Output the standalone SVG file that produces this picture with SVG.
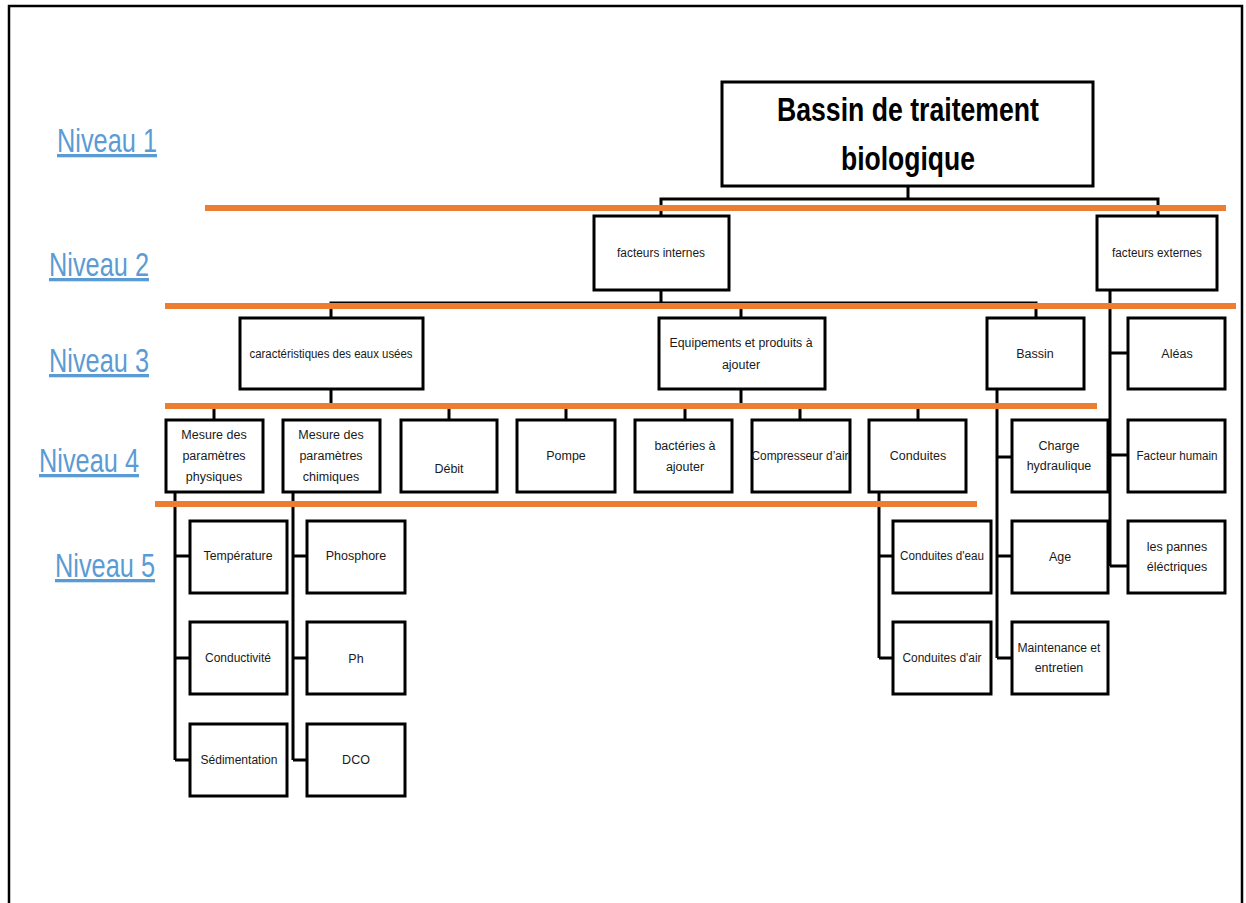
<svg xmlns="http://www.w3.org/2000/svg" width="1246" height="903" viewBox="0 0 1246 903">
  <style>
    .box { fill: #ffffff; stroke: #000000; stroke-width: 3; }
    .lbl { font-family: "Liberation Sans", "DejaVu Sans", sans-serif; font-size: 12.5px; fill: #1a1a1a; text-anchor: middle; }
    .title { font-family: "Liberation Sans", "DejaVu Sans", sans-serif; font-size: 34px; font-weight: bold; fill: #000000; text-anchor: middle; }
    .lvl { font-family: "Liberation Sans", "DejaVu Sans", sans-serif; font-size: 33px; fill: #5B9BD5; text-decoration: underline; }
    .wire { fill: none; stroke: #000000; stroke-width: 3; }
    .band { fill: none; stroke: #ED7D31; stroke-width: 6; }
  </style>

  <!-- page background and frame -->
  <rect x="0" y="0" width="1246" height="903" fill="#ffffff"/>
  <path d="M9,903 V6 H1242 V903" fill="none" stroke="#000000" stroke-width="2.5"/>

  <!-- level labels -->
  <g id="levels">
    <text class="lvl" x="57" y="152" textLength="100" lengthAdjust="spacingAndGlyphs">Niveau 1</text>
    <text class="lvl" x="49" y="276" textLength="100" lengthAdjust="spacingAndGlyphs">Niveau 2</text>
    <text class="lvl" x="49" y="372" textLength="100" lengthAdjust="spacingAndGlyphs">Niveau 3</text>
    <text class="lvl" x="39" y="472" textLength="100" lengthAdjust="spacingAndGlyphs">Niveau 4</text>
    <text class="lvl" x="55" y="577" textLength="100" lengthAdjust="spacingAndGlyphs">Niveau 5</text>
  </g>

  <!-- tree connectors -->
  <g id="connectors">
    <!-- root to level 2 -->
    <path class="wire" d="M908,186 V199 M661,216 V199 H1158 V216"/>
    <!-- facteurs internes to level 3 -->
    <path class="wire" d="M661,290 V303 M331,318 V303 H1036 V318 M741,303 V318"/>
    <!-- facteurs externes side branch -->
    <path class="wire" d="M1110,290 V566 M1110,353 H1128 M1110,455 H1128 M1110,566 H1128"/>
    <!-- level 3 to level 4 -->
    <path class="wire" d="M331,389 V407 M741,389 V407 M214,407 H918 M214,407 V420 M449,407 V420 M566,407 V420 M685,407 V420 M800,407 V420 M918,407 V420"/>
    <!-- Bassin side branch -->
    <path class="wire" d="M997,389 V658 M997,457 H1012 M997,556 H1012 M997,658 H1012"/>
    <!-- physical measures -->
    <path class="wire" d="M175,492 V760 M175,556 H190 M175,658 H190 M175,760 H190"/>
    <!-- chemical measures -->
    <path class="wire" d="M293,492 V760 M293,556 H307 M293,658 H307 M293,760 H307"/>
    <!-- pipes -->
    <path class="wire" d="M879,492 V658 M879,556 H893 M879,658 H893"/>
  </g>

  <!-- level separator bands -->
  <g id="bands">
    <line class="band" x1="205" y1="208" x2="1226" y2="208"/>
    <line class="band" x1="165" y1="306" x2="1236" y2="306"/>
    <line class="band" x1="165" y1="406" x2="1097" y2="406"/>
    <line class="band" x1="155" y1="504" x2="977" y2="504"/>
  </g>

  <!-- level 1 -->
  <g id="n-bassin-traitement">
    <rect class="box" x="722" y="82" width="371" height="104"/>
    <text class="title" x="908" y="121" textLength="262" lengthAdjust="spacingAndGlyphs">Bassin de traitement</text>
    <text class="title" x="908" y="170" textLength="134" lengthAdjust="spacingAndGlyphs">biologique</text>
  </g>

  <!-- level 2 -->
  <g id="n-facteurs-internes">
    <rect class="box" x="594" y="216" width="135" height="74"/>
    <text class="lbl" x="661" y="257" textLength="88" lengthAdjust="spacingAndGlyphs">facteurs internes</text>
  </g>
  <g id="n-facteurs-externes">
    <rect class="box" x="1097" y="216" width="120" height="74"/>
    <text class="lbl" x="1157" y="257" textLength="90" lengthAdjust="spacingAndGlyphs">facteurs externes</text>
  </g>

  <!-- level 3 -->
  <g id="n-caracteristiques">
    <rect class="box" x="240" y="318" width="183" height="71"/>
    <text class="lbl" x="331" y="358" textLength="163" lengthAdjust="spacingAndGlyphs">caractéristiques des eaux usées</text>
  </g>
  <g id="n-equipements">
    <rect class="box" x="659" y="318" width="166" height="71"/>
    <text class="lbl" x="741" y="347" textLength="143" lengthAdjust="spacingAndGlyphs">Equipements et produits à</text>
    <text class="lbl" x="741" y="369">ajouter</text>
  </g>
  <g id="n-bassin">
    <rect class="box" x="987" y="318" width="97" height="71"/>
    <text class="lbl" x="1035" y="358">Bassin</text>
  </g>
  <g id="n-aleas">
    <rect class="box" x="1128" y="318" width="97" height="71"/>
    <text class="lbl" x="1177" y="358">Aléas</text>
  </g>

  <!-- level 4 -->
  <g id="n-mesure-physiques">
    <rect class="box" x="166" y="420" width="97" height="72"/>
    <text class="lbl" x="214" y="439">Mesure des</text>
    <text class="lbl" x="214" y="460">paramètres</text>
    <text class="lbl" x="214" y="481">physiques</text>
  </g>
  <g id="n-mesure-chimiques">
    <rect class="box" x="283" y="420" width="97" height="72"/>
    <text class="lbl" x="331" y="439">Mesure des</text>
    <text class="lbl" x="331" y="460">paramètres</text>
    <text class="lbl" x="331" y="481">chimiques</text>
  </g>
  <g id="n-debit">
    <rect class="box" x="401" y="420" width="96" height="72"/>
    <text class="lbl" x="449" y="473">Débit</text>
  </g>
  <g id="n-pompe">
    <rect class="box" x="517" y="420" width="98" height="72"/>
    <text class="lbl" x="566" y="460">Pompe</text>
  </g>
  <g id="n-bacteries">
    <rect class="box" x="635" y="420" width="97" height="72"/>
    <text class="lbl" x="685" y="450">bactéries à</text>
    <text class="lbl" x="685" y="471">ajouter</text>
  </g>
  <g id="n-compresseur">
    <rect class="box" x="752" y="420" width="98" height="72"/>
    <text class="lbl" x="800" y="460" textLength="97" lengthAdjust="spacingAndGlyphs">Compresseur d’air</text>
  </g>
  <g id="n-conduites">
    <rect class="box" x="869" y="420" width="97" height="72"/>
    <text class="lbl" x="918" y="460">Conduites</text>
  </g>
  <g id="n-charge">
    <rect class="box" x="1012" y="420" width="96" height="72"/>
    <text class="lbl" x="1059" y="450">Charge</text>
    <text class="lbl" x="1059" y="470">hydraulique</text>
  </g>
  <g id="n-facteur-humain">
    <rect class="box" x="1128" y="420" width="97" height="72"/>
    <text class="lbl" x="1177" y="460" textLength="81" lengthAdjust="spacingAndGlyphs">Facteur humain</text>
  </g>

  <!-- level 5 -->
  <g id="n-temperature">
    <rect class="box" x="190" y="521" width="97" height="72"/>
    <text class="lbl" x="238" y="560" textLength="69" lengthAdjust="spacingAndGlyphs">Température</text>
  </g>
  <g id="n-conductivite">
    <rect class="box" x="190" y="622" width="97" height="72"/>
    <text class="lbl" x="238" y="662" textLength="66" lengthAdjust="spacingAndGlyphs">Conductivité</text>
  </g>
  <g id="n-sedimentation">
    <rect class="box" x="190" y="724" width="97" height="72"/>
    <text class="lbl" x="239" y="764" textLength="77" lengthAdjust="spacingAndGlyphs">Sédimentation</text>
  </g>
  <g id="n-phosphore">
    <rect class="box" x="307" y="521" width="98" height="72"/>
    <text class="lbl" x="356" y="560">Phosphore</text>
  </g>
  <g id="n-ph">
    <rect class="box" x="307" y="622" width="98" height="72"/>
    <text class="lbl" x="356" y="663">Ph</text>
  </g>
  <g id="n-dco">
    <rect class="box" x="307" y="724" width="98" height="72"/>
    <text class="lbl" x="356" y="764">DCO</text>
  </g>
  <g id="n-conduites-eau">
    <rect class="box" x="893" y="521" width="98" height="72"/>
    <text class="lbl" x="942" y="560" textLength="84" lengthAdjust="spacingAndGlyphs">Conduites d'eau</text>
  </g>
  <g id="n-conduites-air">
    <rect class="box" x="893" y="622" width="98" height="72"/>
    <text class="lbl" x="942" y="662" textLength="79" lengthAdjust="spacingAndGlyphs">Conduites d'air</text>
  </g>
  <g id="n-age">
    <rect class="box" x="1012" y="521" width="96" height="72"/>
    <text class="lbl" x="1060" y="561">Age</text>
  </g>
  <g id="n-maintenance">
    <rect class="box" x="1012" y="622" width="96" height="72"/>
    <text class="lbl" x="1059" y="652" textLength="83" lengthAdjust="spacingAndGlyphs">Maintenance et</text>
    <text class="lbl" x="1059" y="672">entretien</text>
  </g>
  <g id="n-pannes">
    <rect class="box" x="1128" y="521" width="97" height="72"/>
    <text class="lbl" x="1177" y="551">les pannes</text>
    <text class="lbl" x="1177" y="571">éléctriques</text>
  </g>
</svg>
